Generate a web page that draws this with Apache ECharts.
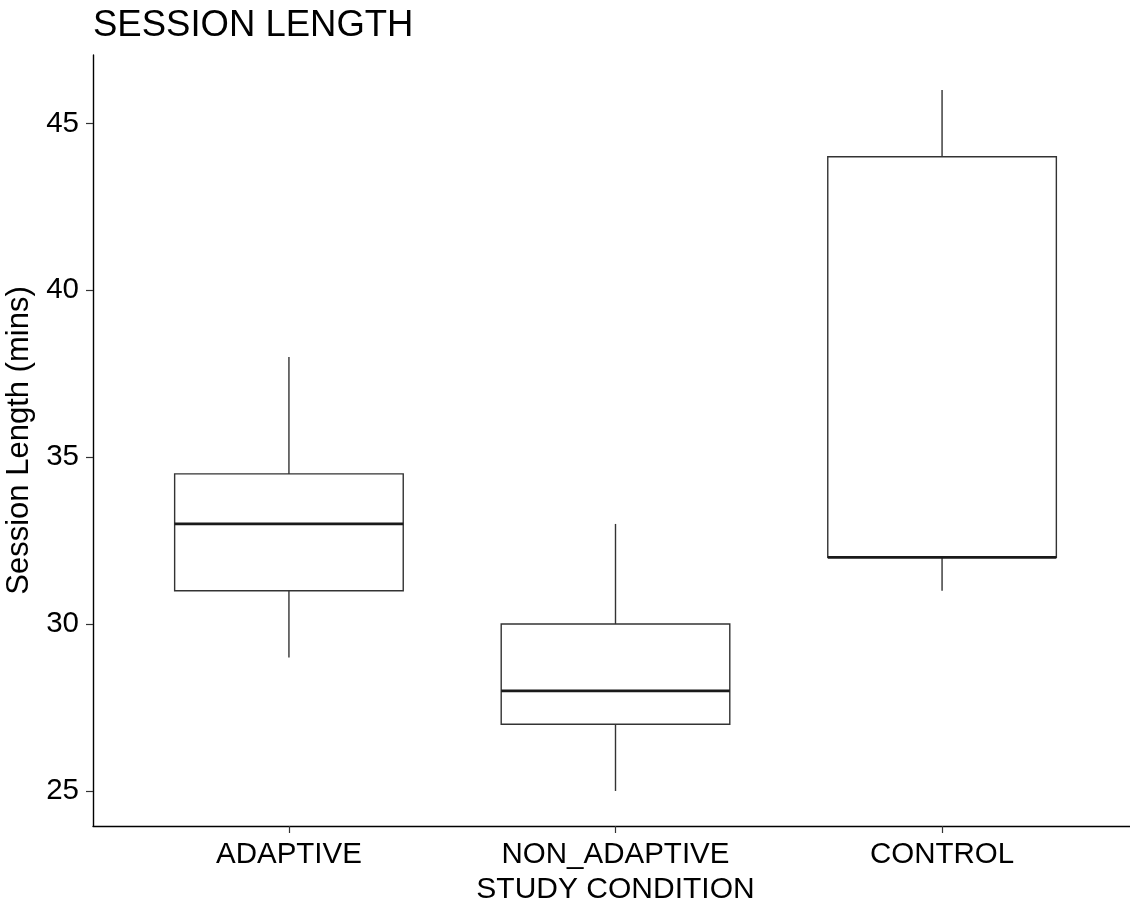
<!DOCTYPE html>
<html>
<head>
<meta charset="utf-8">
<script src="https://cdn.jsdelivr.net/npm/echarts@6/dist/echarts.min.js"></script>
<style>
  html, body { margin: 0; padding: 0; background: #fff; }
  #chart { width: 1130px; height: 905px; }
</style>
</head>
<body>
<div id="chart"></div>
<script>
// Session length per study condition (minutes)
const categories = ['ADAPTIVE', 'NON_ADAPTIVE', 'CONTROL'];
const whiskerLow = [29, 25, 31];
const lowerQuartile = [31, 27, 32];
const median = [33, 28, 32];
const upperQuartile = [34.5, 30, 44];
const whiskerHigh = [38, 33, 46];
const yTicks = [25, 30, 35, 40, 45];

const FONT = '"Liberation Sans", Arial, sans-serif';

const boxData = categories.map((c, i) => [
  i + 1, whiskerLow[i], lowerQuartile[i], median[i], upperQuartile[i], whiskerHigh[i]
]);

function renderBox(params, api) {
  const x = api.value(0);
  const half = api.size([0.7, 0])[0] / 2;
  const pLow = api.coord([x, api.value(1)]);
  const pQ1 = api.coord([x, api.value(2)]);
  const pMed = api.coord([x, api.value(3)]);
  const pQ3 = api.coord([x, api.value(4)]);
  const pHigh = api.coord([x, api.value(5)]);
  const lineStyle = { stroke: '#333333', lineWidth: 1.4 };
  return {
    type: 'group',
    children: [
      { type: 'line', shape: { x1: pLow[0], y1: pLow[1], x2: pQ1[0], y2: pQ1[1] }, style: lineStyle },
      { type: 'line', shape: { x1: pQ3[0], y1: pQ3[1], x2: pHigh[0], y2: pHigh[1] }, style: lineStyle },
      {
        type: 'rect',
        shape: { x: pQ3[0] - half, y: pQ3[1], width: 2 * half, height: pQ1[1] - pQ3[1] },
        style: { fill: '#ffffff', stroke: '#333333', lineWidth: 1.4 }
      },
      {
        type: 'line',
        shape: { x1: pMed[0] - half, y1: pMed[1], x2: pMed[0] + half, y2: pMed[1] },
        style: { stroke: '#1a1a1a', lineWidth: 2.8 }
      }
    ]
  };
}

const chart = echarts.init(document.getElementById('chart'), null, { renderer: 'canvas' });
chart.setOption({
  animation: false,
  backgroundColor: '#ffffff',
  title: {
    text: 'SESSION LENGTH',
    left: 88,
    top: 2,
    textStyle: { fontFamily: FONT, fontSize: 36.5, fontWeight: 'normal', color: '#000000' }
  },
  grid: { left: 93, top: 55, width: 1045, height: 771, outerBoundsMode: 'none', containLabel: false },
  xAxis: {
    type: 'value',
    min: 0.4,
    max: 3.6,
    splitLine: { show: false },
    axisLine: { onZero: false, lineStyle: { color: '#000000', width: 1.4 } },
    axisTick: { customValues: [1, 2, 3], length: 7, lineStyle: { color: '#333333', width: 1.2 } },
    axisLabel: {
      customValues: [1, 2, 3],
      formatter: v => categories[Math.round(v) - 1],
      fontFamily: FONT, fontSize: 29.5, color: '#000000', margin: 14
    },
    name: 'STUDY CONDITION',
    nameLocation: 'middle',
    nameGap: 49,
    nameTextStyle: { fontFamily: FONT, fontSize: 30, color: '#000000' }
  },
  yAxis: {
    type: 'value',
    min: 23.95,
    max: 47.05,
    splitLine: { show: false },
    axisLine: { show: true, onZero: false, lineStyle: { color: '#000000', width: 1.4 } },
    axisTick: { show: true, customValues: yTicks, length: 7, lineStyle: { color: '#333333', width: 1.2 } },
    axisLabel: {
      customValues: yTicks,
      fontFamily: FONT, fontSize: 29.5, color: '#000000', margin: 14
    },
    name: 'Session Length (mins)',
    nameLocation: 'middle',
    nameGap: 48,
    nameRotate: 90,
    nameTextStyle: { fontFamily: FONT, fontSize: 31, color: '#000000' }
  },
  series: [{
    type: 'custom',
    renderItem: renderBox,
    encode: { x: 0, y: [1, 2, 3, 4, 5] },
    data: boxData
  }]
});
</script>
</body>
</html>
